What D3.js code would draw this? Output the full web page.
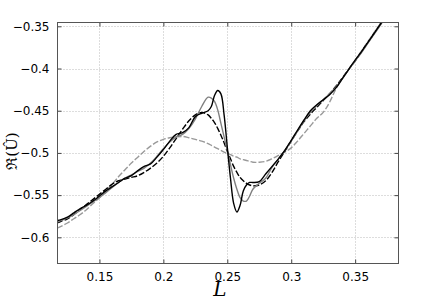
<!DOCTYPE html>
<html>
<head>
<meta charset="utf-8">
<script src="https://cdn.jsdelivr.net/npm/d3@7"></script>
<style>
body { margin: 0; background: #fff; }
</style>
</head>
<body>
<script>
var L = [0.117, 0.12, 0.125, 0.13, 0.135, 0.14, 0.145, 0.15, 0.155, 0.16, 0.165, 0.17, 0.175, 0.18, 0.185, 0.19, 0.195, 0.2, 0.205, 0.21, 0.215, 0.22, 0.225, 0.23, 0.235, 0.2375, 0.24, 0.2425, 0.245, 0.2475, 0.25, 0.2525, 0.255, 0.2575, 0.26, 0.2625, 0.265, 0.2675, 0.27, 0.275, 0.28, 0.285, 0.29, 0.295, 0.3, 0.305, 0.31, 0.315, 0.32, 0.325, 0.33, 0.335, 0.34, 0.345, 0.35, 0.355, 0.36, 0.365, 0.37, 0.375, 0.38];

var solidBlack = [-0.580, -0.579, -0.576, -0.571, -0.566, -0.562, -0.557, -0.551, -0.545, -0.540, -0.535, -0.530, -0.527, -0.521, -0.516, -0.513, -0.505, -0.496, -0.486, -0.478, -0.476, -0.470, -0.457, -0.453, -0.450, -0.445, -0.432, -0.426, -0.430, -0.455, -0.493, -0.530, -0.560, -0.570, -0.562, -0.545, -0.538, -0.535, -0.535, -0.534, -0.525, -0.516, -0.507, -0.497, -0.485, -0.473, -0.461, -0.450, -0.443, -0.437, -0.431, -0.423, -0.412, -0.401, -0.390, -0.380, -0.369, -0.358, -0.347, -0.336, -0.325];

var solidGray = [-0.582, -0.580, -0.577, -0.573, -0.568, -0.563, -0.558, -0.553, -0.547, -0.541, -0.535, -0.530, -0.526, -0.522, -0.518, -0.512, -0.504, -0.495, -0.487, -0.481, -0.478, -0.471, -0.460, -0.445, -0.434, -0.435, -0.439, -0.449, -0.465, -0.481, -0.497, -0.514, -0.530, -0.543, -0.553, -0.557, -0.557, -0.551, -0.543, -0.536, -0.530, -0.517, -0.507, -0.497, -0.486, -0.474, -0.462, -0.452, -0.444, -0.437, -0.430, -0.422, -0.412, -0.401, -0.391, -0.381, -0.370, -0.359, -0.348, -0.337, -0.326];

var dashedBlack = [-0.583, -0.581, -0.578, -0.573, -0.567, -0.561, -0.555, -0.549, -0.543, -0.537, -0.533, -0.531, -0.529, -0.527, -0.523, -0.518, -0.512, -0.504, -0.494, -0.483, -0.472, -0.462, -0.455, -0.452, -0.455, -0.459, -0.464, -0.471, -0.479, -0.488, -0.498, -0.507, -0.516, -0.523, -0.529, -0.533, -0.536, -0.538, -0.539, -0.538, -0.533, -0.523, -0.510, -0.498, -0.486, -0.474, -0.463, -0.454, -0.446, -0.438, -0.430, -0.421, -0.411, -0.401, -0.391, -0.380, -0.369, -0.358, -0.347, -0.336, -0.325];

var dashedGray = [-0.589, -0.587, -0.583, -0.578, -0.573, -0.567, -0.560, -0.553, -0.545, -0.537, -0.528, -0.520, -0.512, -0.505, -0.498, -0.492, -0.487, -0.484, -0.482, -0.481, -0.4805, -0.482, -0.484, -0.486, -0.489, -0.491, -0.493, -0.495, -0.497, -0.499, -0.501, -0.502, -0.504, -0.505, -0.507, -0.508, -0.509, -0.510, -0.511, -0.511, -0.510, -0.507, -0.503, -0.499, -0.494, -0.486, -0.477, -0.468, -0.459, -0.452, -0.440, -0.424, -0.412, -0.401, -0.390, -0.379, -0.368, -0.357, -0.346, -0.335, -0.324];

var xTicks = [0.15, 0.2, 0.25, 0.3, 0.35];
var yTicks = [-0.35, -0.4, -0.45, -0.5, -0.55, -0.6];

var series = [
    { values: dashedGray, color: '#999999', width: 1.4, dash: '6,2' },
    { values: dashedBlack, color: '#000000', width: 1.4, dash: '6,2' },
    { values: solidGray, color: '#808080', width: 1.4, dash: null },
    { values: solidBlack, color: '#000000', width: 1.4, dash: null }
];

var plotLeft = 57.5, plotRight = 398.5, plotTop = 22.5, plotBottom = 263.5;

var svg = d3.select('body').append('svg')
    .attr('width', 440)
    .attr('height', 297);

var x = d3.scaleLinear().domain([0.1172, 0.3839]).range([plotLeft, plotRight]);
var y = d3.scaleLinear().domain([-0.631, -0.3455]).range([plotBottom, plotTop]);

svg.append('defs').append('clipPath')
    .attr('id', 'clip')
    .append('rect')
    .attr('x', plotLeft)
    .attr('y', plotTop)
    .attr('width', plotRight - plotLeft)
    .attr('height', plotBottom - plotTop);

// grid
var grid = svg.append('g');
grid.selectAll('.gx').data(xTicks).enter().append('line')
    .attr('x1', function(d) { return Math.round(x(d)) + 0.5; })
    .attr('x2', function(d) { return Math.round(x(d)) + 0.5; })
    .attr('y1', plotTop)
    .attr('y2', plotBottom)
    .attr('stroke', '#bbbbbb')
    .attr('stroke-width', 1)
    .attr('stroke-dasharray', '1,2');
grid.selectAll('.gy').data(yTicks).enter().append('line')
    .attr('x1', plotLeft)
    .attr('x2', plotRight)
    .attr('y1', function(d) { return Math.round(y(d)) + 0.5; })
    .attr('y2', function(d) { return Math.round(y(d)) + 0.5; })
    .attr('stroke', '#bbbbbb')
    .attr('stroke-width', 1)
    .attr('stroke-dasharray', '1,2');

// curves
var line = d3.line()
    .x(function(d, i) { return x(L[i]); })
    .y(function(d) { return y(d); })
    .curve(d3.curveCatmullRom.alpha(0.5));

var plot = svg.append('g').attr('clip-path', 'url(#clip)');
series.forEach(function(s) {
    plot.append('path')
        .datum(s.values)
        .attr('d', line)
        .attr('fill', 'none')
        .attr('stroke', s.color)
        .attr('stroke-width', s.width)
        .attr('stroke-dasharray', s.dash);
});

// axes (ticks inward on all four sides)
var fmt = function(d) { return d3.format('')(d).replace('-', '\u2212'); };

svg.append('g')
    .attr('transform', 'translate(0,' + plotBottom + ')')
    .call(d3.axisBottom(x).tickValues(xTicks).tickSizeInner(-4).tickSizeOuter(0).tickPadding(9).tickFormat(fmt));
svg.append('g')
    .attr('transform', 'translate(0,' + plotTop + ')')
    .call(d3.axisTop(x).tickValues(xTicks).tickSizeInner(-4).tickSizeOuter(0).tickFormat(''));
svg.append('g')
    .attr('transform', 'translate(' + plotLeft + ',0)')
    .call(d3.axisLeft(y).tickValues(yTicks).tickSizeInner(-4).tickSizeOuter(0).tickPadding(8).tickFormat(fmt));
svg.append('g')
    .attr('transform', 'translate(' + plotRight + ',0)')
    .call(d3.axisRight(y).tickValues(yTicks).tickSizeInner(-4).tickSizeOuter(0).tickFormat(''));

svg.selectAll('.domain').remove();
svg.selectAll('.tick line').attr('stroke', '#444');
svg.selectAll('.tick text')
    .attr('font-family', 'DejaVu Sans, sans-serif')
    .attr('font-size', 12)
    .attr('fill', '#000');

svg.append('rect')
    .attr('x', plotLeft)
    .attr('y', plotTop)
    .attr('width', plotRight - plotLeft)
    .attr('height', plotBottom - plotTop)
    .attr('fill', 'none')
    .attr('stroke', '#555')
    .attr('stroke-width', 1);

// axis labels
svg.append('text')
    .attr('x', 220)
    .attr('y', 296)
    .attr('text-anchor', 'middle')
    .attr('font-family', 'DejaVu Serif, serif')
    .attr('font-style', 'italic')
    .attr('font-size', 20)
    .text('L');

svg.append('text')
    .attr('transform', 'translate(17,151) rotate(-90)')
    .attr('text-anchor', 'middle')
    .attr('font-family', 'DejaVu Serif, serif')
    .attr('font-size', 15)
    .text('\u211C(\u00DB)');
</script>
</body>
</html>
